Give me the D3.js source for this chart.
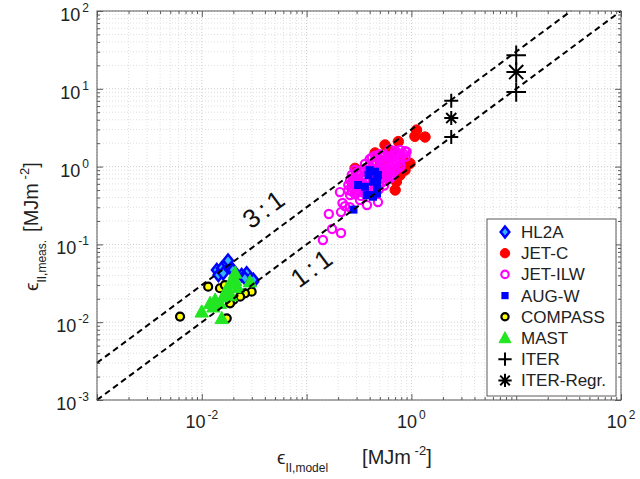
<!DOCTYPE html>
<html>
<head>
<meta charset="utf-8">
<script src="https://cdn.jsdelivr.net/npm/d3@7"></script>
<style>
  body { margin: 0; background: #fff; }
  svg  { font-family: "Liberation Sans", Arial, Helvetica, sans-serif; }
</style>
</head>
<body>
<svg id="chart" width="640" height="479"></svg>
<script>
// ── Data (x = eps_model, y = eps_meas, MJ/m^2) ───────────────────────────────
const hl2a = [
  [0.0139, 0.0469], [0.0155, 0.0493], [0.0173, 0.0571], [0.0186, 0.0517], [0.0144, 0.0404],
  [0.0160, 0.0425], [0.0240, 0.0404], [0.0268, 0.0425], [0.0288, 0.0348], [0.0310, 0.0332],
  [0.0258, 0.0367], [0.0178, 0.0620], [0.0198, 0.0470], [0.0310, 0.0350], [0.0210, 0.0410]
];
const jetC = [
  [1.12, 2.95], [1.35, 2.40], [1.08, 2.45], [0.75, 2.10], [0.56, 1.90], [0.62, 1.55],
  [0.84, 1.22], [0.97, 1.10], [0.29, 0.95], [0.78, 0.95], [0.78, 0.78], [0.70, 0.50],
  [0.72, 0.64], [0.87, 0.90], [0.67, 1.55], [0.45, 1.50], [0.60, 1.30], [0.50, 1.20]
];
const jetIlw = [
  [0.143, 0.114], [0.175, 0.158], [0.213, 0.140], [0.163, 0.246], [0.213, 0.260],
  [0.232, 0.310], [0.208, 0.470], [0.323, 0.372], [0.377, 0.320], [0.480, 0.350],
  [0.259, 0.300], [0.900, 1.550], [0.780, 1.050], [0.270, 0.480], [0.220, 0.340],
  [0.62, 1.66], [0.70, 1.60], [0.78, 1.64], [0.87, 1.58], [0.74, 1.50], [0.84, 1.46],
  [0.45, 1.38], [0.50, 1.44], [0.56, 1.40], [0.63, 1.36], [0.70, 1.42], [0.79, 1.38], [0.88, 1.34],
  [0.42, 1.31], [0.53, 1.32], [0.66, 1.30], [0.60, 1.28],
  [0.40, 1.25], [0.45, 1.18], [0.50, 1.24], [0.56, 1.20], [0.62, 1.16], [0.70, 1.22], [0.78, 1.18],
  [0.36, 1.08], [0.40, 1.02], [0.45, 1.06], [0.50, 1.03], [0.56, 1.07], [0.62, 1.02], [0.70, 1.05], [0.78, 1.00],
  [0.38, 0.98], [0.48, 0.97], [0.59, 0.97], [0.74, 0.95],
  [0.29, 0.91], [0.32, 0.88], [0.36, 0.92], [0.40, 0.89], [0.45, 0.93], [0.50, 0.88], [0.56, 0.91], [0.63, 0.87], [0.70, 0.90],
  [0.30, 0.84], [0.38, 0.84], [0.48, 0.84], [0.60, 0.84],
  [0.27, 0.78], [0.31, 0.80], [0.35, 0.76], [0.40, 0.79], [0.46, 0.77], [0.52, 0.81], [0.59, 0.76], [0.67, 0.78],
  [0.28, 0.72], [0.34, 0.72], [0.43, 0.72], [0.55, 0.72], [0.64, 0.73],
  [0.26, 0.67], [0.29, 0.69], [0.32, 0.66], [0.36, 0.68], [0.40, 0.65], [0.50, 0.69], [0.56, 0.66], [0.62, 0.70],
  [0.27, 0.62], [0.33, 0.63], [0.45, 0.62], [0.52, 0.62],
  [0.25, 0.58], [0.28, 0.60], [0.31, 0.57], [0.35, 0.59], [0.39, 0.56], [0.49, 0.59], [0.55, 0.57],
  [0.27, 0.54], [0.33, 0.54], [0.45, 0.54],
  [0.25, 0.50], [0.28, 0.52], [0.31, 0.49], [0.35, 0.51], [0.41, 0.48], [0.49, 0.51],
  [0.30, 0.46], [0.36, 0.47], [0.44, 0.47],
  [0.26, 0.43], [0.29, 0.44], [0.33, 0.42], [0.38, 0.44]
];
const augW = [
  [0.40, 0.90], [0.39, 0.78], [0.43, 0.64], [0.31, 0.58], [0.47, 0.53], [0.375, 0.43],
  [0.43, 0.41], [0.28, 0.28], [0.45, 0.86], [0.48, 0.78], [0.47, 0.67], [0.40, 0.43],
  [0.47, 0.45], [0.36, 0.55]
];
const compass = [
  [0.0115, 0.0286], [0.0149, 0.0273], [0.0299, 0.0247], [0.0258, 0.0235], [0.0232, 0.0213],
  [0.0200, 0.0193], [0.0186, 0.0175], [0.0062, 0.0118], [0.0173, 0.0112], [0.0166, 0.0300]
];
const mast = [
  [0.00998, 0.0136], [0.0155, 0.0112], [0.0208, 0.0348], [0.0134, 0.0193], [0.0160, 0.0213],
  [0.0129, 0.0158], [0.0173, 0.0259], [0.0186, 0.0316], [0.0288, 0.0332], [0.0149, 0.0175],
  [0.0120, 0.0175], [0.0190, 0.0220], [0.0220, 0.0280], [0.0208, 0.0430]
];
const iter     = [[2.4, 7.0], [2.4, 2.4], [10, 27], [10, 9.1]];
const iterRegr = [[2.4, 4.2], [10, 16.4]];

const ratioLines = [{ k: 3, label: "3:1" }, { k: 1, label: "1:1" }];
const xTickExp = [-2, 0, 2];
const yTickExp = [-3, -2, -1, 0, 1, 2];

// ── Layout ────────────────────────────────────────────────────────────────────
const M = { l: 97, r: 621, t: 11, b: 400 };
const AX = "#5a5a5a";

const x = d3.scaleLog().domain([1e-3, 1e2]).range([M.l, M.r]);
const y = d3.scaleLog().domain([1e-3, 1e2]).range([M.b, M.t]);

const svg = d3.select("#chart");

const majors = d3.range(-3, 3).map(e => Math.pow(10, e));
const minors = [];
d3.range(-3, 2).forEach(e => d3.range(2, 10).forEach(k => minors.push(k * Math.pow(10, e))));

// ── Grid ──────────────────────────────────────────────────────────────────────
const grid = svg.append("g");
grid.selectAll(".gx").data(minors.concat(majors)).join("line")
  .attr("x1", d => x(d)).attr("x2", d => x(d)).attr("y1", M.t).attr("y2", M.b)
  .attr("stroke", d => majors.includes(d) ? "#cccccc" : "#e0e0e0")
  .attr("stroke-dasharray", "1,2");
grid.selectAll(".gy").data(minors.concat(majors)).join("line")
  .attr("y1", d => y(d)).attr("y2", d => y(d)).attr("x1", M.l).attr("x2", M.r)
  .attr("stroke", d => majors.includes(d) ? "#cccccc" : "#e0e0e0")
  .attr("stroke-dasharray", "1,2");

// ── Axes (ticks inward on all four sides) ─────────────────────────────────────
function tickAxis(axis, transform, vals, size) {
  const g = svg.append("g").attr("transform", transform)
    .call(axis.tickValues(vals).tickSize(size).tickFormat(""));
  g.select(".domain").remove();
  g.selectAll("line").attr("stroke", AX);
  return g;
}
[[majors, -6], [minors, -3]].forEach(([vals, s]) => {
  tickAxis(d3.axisBottom(x), `translate(0,${M.b})`, vals, s);
  tickAxis(d3.axisTop(x),    `translate(0,${M.t})`, vals, s);
  tickAxis(d3.axisLeft(y),   `translate(${M.l},0)`, vals, s);
  tickAxis(d3.axisRight(y),  `translate(${M.r},0)`, vals, s);
});

function powLabel(t, e) {
  t.append("tspan").text("10");
  t.append("tspan").attr("dy", -9).attr("dx", 2).attr("font-size", 12).text(e);
}
xTickExp.forEach(e => {
  const t = svg.append("text").attr("x", x(Math.pow(10, e))).attr("y", 428)
    .attr("text-anchor", "middle").attr("font-size", 18).attr("fill", "#222");
  powLabel(t, e);
});
yTickExp.forEach(e => {
  const t = svg.append("text").attr("x", 89).attr("y", y(Math.pow(10, e)) + 10)
    .attr("text-anchor", "end").attr("font-size", 18).attr("fill", "#222");
  powLabel(t, e);
});

// axis titles
function axisTitle(t, sub, gap) {
  t.append("tspan").attr("font-size", 19).text("ϵ");
  t.append("tspan").attr("dy", 8).attr("font-size", 12).text(sub);
  t.append("tspan").attr("dy", -8).attr("dx", gap).text("[MJm");
  t.append("tspan").attr("dy", -9).attr("font-size", 13).text(" -2");
  t.append("tspan").attr("dy", 9).text("]");
}
axisTitle(svg.append("text").attr("x", 277).attr("y", 464)
  .attr("fill", "#222").attr("font-size", 20), "II,model", 34);
axisTitle(svg.append("text").attr("transform", "translate(38,291) rotate(-90)")
  .attr("fill", "#222").attr("font-size", 20), "II,meas.", 8);

// ── Markers ───────────────────────────────────────────────────────────────────
const diamond  = s => `M0,${-s}L${s * 0.8},0L0,${s}L${-s * 0.8},0Z`;
const triangle = s => `M0,${-s}L${s * 0.95},${s * 0.75}L${-s * 0.95},${s * 0.75}Z`;
const plus     = s => `M${-s},0H${s}M0,${-s}V${s}`;
const star     = s => { const d = s * 0.72;
  return `M${-s},0H${s}M0,${-s}V${s}M${-d},${-d}L${d},${d}M${-d},${d}L${d},${-d}`; };

const series = [
  { name: "HL2A",       data: hl2a,     draw: (g, s) => g.append("path").attr("d", diamond(6 * s)).attr("fill", "#30b4ff").attr("stroke", "#0000ff").attr("stroke-width", 2.5) },
  { name: "JET-C",      data: jetC,     draw: (g, s) => g.append("circle").attr("r", 5.2 * s).attr("fill", "#ff0000").attr("stroke", "#ff0000") },
  { name: "JET-ILW",    data: jetIlw,   draw: (g, s) => g.append("circle").attr("r", 4.1 * s).attr("fill", "none").attr("stroke", "#ff00ff").attr("stroke-width", 2.2) },
  { name: "AUG-W",      data: augW,     draw: (g, s) => g.append("rect").attr("x", -4 * s).attr("y", -4 * s).attr("width", 8 * s).attr("height", 8 * s).attr("fill", "#0000ff") },
  { name: "COMPASS",    data: compass,  draw: (g, s) => g.append("circle").attr("r", 4 * s).attr("fill", "#ffff00").attr("stroke", "#000").attr("stroke-width", 2.2) },
  { name: "MAST",       data: mast,     draw: (g, s) => g.append("path").attr("d", triangle(7 * s)).attr("fill", "#22e622").attr("stroke", "#22e622") },
  { name: "ITER",       data: iter,     draw: (g, s) => g.append("path").attr("d", plus(7 * s)).attr("fill", "none").attr("stroke", "#000").attr("stroke-width", 2) },
  { name: "ITER-Regr.", data: iterRegr, draw: (g, s) => g.append("path").attr("d", star(7 * s)).attr("fill", "none").attr("stroke", "#000").attr("stroke-width", 2) }
];

// ITER projections at the larger machine size are drawn bigger
const markScale = (name, d) => name.startsWith("ITER") ? (d[0] > 5 ? 1.4 : 1.0) : 1;

const marks = svg.append("g");
series.forEach(sr => {
  marks.append("g").selectAll("g").data(sr.data).join("g")
    .attr("transform", d => `translate(${x(d[0])},${y(d[1])})`)
    .each(function (d) { sr.draw(d3.select(this), markScale(sr.name, d)); });
});

// ── Ratio lines ───────────────────────────────────────────────────────────────
const angle = Math.atan2(y(100) - y(1e-3), x(100) - x(1e-3)) * 180 / Math.PI;
ratioLines.forEach(r => {
  const x0 = 1e-3, x1 = Math.min(1e2, 1e2 / r.k);
  svg.append("line")
    .attr("x1", x(x0)).attr("y1", y(x0 * r.k)).attr("x2", x(x1)).attr("y2", y(x1 * r.k))
    .attr("stroke", "#000").attr("stroke-width", 2).attr("stroke-dasharray", "6,4");
});
const labelAt = [{ xv: 0.055, dy: -15 }, { xv: 0.086, dy: 31 }];
ratioLines.forEach((r, i) => {
  const p = labelAt[i];
  svg.append("text")
    .attr("transform", `translate(${x(p.xv)},${y(p.xv * r.k)}) rotate(${angle})`)
    .attr("dy", p.dy).attr("text-anchor", "middle")
    .attr("font-size", 26).attr("letter-spacing", 4).attr("fill", "#111")
    .text(r.label);
});

// ── Box ───────────────────────────────────────────────────────────────────────
svg.append("rect").attr("x", M.l).attr("y", M.t).attr("width", M.r - M.l).attr("height", M.b - M.t)
  .attr("fill", "none").attr("stroke", AX).attr("stroke-width", 1);

// ── Legend ────────────────────────────────────────────────────────────────────
const lg = svg.append("g");
lg.append("rect").attr("x", 487).attr("y", 219).attr("width", 129).attr("height", 177)
  .attr("fill", "#fff").attr("stroke", AX).attr("stroke-width", 1);
series.forEach((sr, i) => {
  const cy = 232 + i * 21.2;
  const g = lg.append("g").attr("transform", `translate(505,${cy})`);
  sr.draw(g, sr.name.startsWith("ITER") ? 0.95 : 0.9);
  lg.append("text").attr("x", 521).attr("y", cy + 6).attr("font-size", 17).attr("fill", "#222").text(sr.name);
});
</script>
</body>
</html>
